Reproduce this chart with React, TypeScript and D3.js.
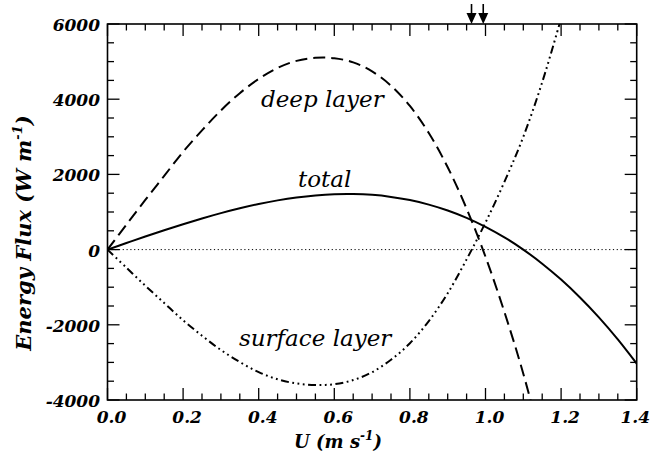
import React from "react";
import * as d3 from "d3";

// ---- data ----
const U_GRID = [0, 0.05, 0.1, 0.15, 0.2, 0.25, 0.3, 0.35, 0.4, 0.45, 0.5, 0.55, 0.6, 0.65, 0.7, 0.75, 0.8, 0.85, 0.9, 0.95, 1.0, 1.05, 1.1, 1.15, 1.2, 1.25, 1.3, 1.35, 1.4];
const TOTAL = [0, 174, 347, 514, 676, 828, 970, 1099, 1213, 1309, 1386, 1441, 1473, 1478, 1456, 1402, 1317, 1197, 1040, 844, 606, 326, 0, -374, -797, -1273, -1802, -2388, -3032];

const U_DEEP = [0, 0.05, 0.1, 0.15, 0.2, 0.25, 0.3, 0.35, 0.4, 0.45, 0.5, 0.55, 0.6, 0.65, 0.7, 0.75, 0.8, 0.85, 0.9, 0.95, 1.0, 1.05, 1.1, 1.15];
const DEEP = [0, 665, 1320, 1960, 2600, 3170, 3700, 4160, 4540, 4830, 5020, 5100, 5090, 4980, 4740, 4360, 3820, 3100, 2190, 1090, -190, -1660, -3300, -5200];

const U_SURF = [0, 0.05, 0.1, 0.15, 0.2, 0.25, 0.3, 0.35, 0.4, 0.45, 0.5, 0.55, 0.6, 0.65, 0.7, 0.75, 0.8, 0.85, 0.9, 0.95, 1.0, 1.05, 1.1, 1.15, 1.2];
const SURF = [0, -480, -960, -1420, -1880, -2290, -2670, -2990, -3260, -3450, -3560, -3600, -3580, -3470, -3260, -2930, -2490, -1900, -1160, -260, 720, 1800, 3000, 4450, 6150];

const ARROWS_U = [0.963, 0.994];

const X_TICKS = [0, 0.2, 0.4, 0.6, 0.8, 1.0, 1.2, 1.4];
const X_TICK_LABELS = ["0.0", "0.2", "0.4", "0.6", "0.8", "1.0", "1.2", "1.4"];
const Y_TICKS = [-4000, -2000, 0, 2000, 4000, 6000];
const Y_TICK_LABELS = ["-4000", "-2000", "0", "2000", "4000", "6000"];

const W = 651, H = 455;
const L = 107.5, R = 636.7, T = 24, B = 400;

export default function App() {
  const x = d3.scaleLinear().domain([0, 1.4]).range([L, R]);
  const y = d3.scaleLinear().domain([-4000, 6000]).range([B, T]);

  const mk = (us: number[], vs: number[]) =>
    d3.line<number>().x((_, i) => x(us[i])).y((v) => y(v)).curve(d3.curveCatmullRom.alpha(0.5))(vs) || "";

  const xMinor = d3.range(0, 1.4001, 0.05);
  const yMinor = d3.range(-4000, 6001, 500);
  const isMajX = (v: number) => Math.abs(v * 5 - Math.round(v * 5)) < 1e-6;
  const isMajY = (v: number) => v % 2000 === 0;

  const tickFont = { fontFamily: "DejaVu Serif", fontWeight: "bold" as const, fontStyle: "italic" as const, fontSize: 17 };
  const titleFont = { fontFamily: "DejaVu Serif", fontWeight: "bold" as const, fontStyle: "italic" as const };
  const labelFont = { fontFamily: "DejaVu Serif", fontStyle: "italic" as const, fontSize: 23 };

  return (
    <svg width={W} height={H} style={{ position: "absolute", left: 0, top: 0, background: "#fff" }}>
      <defs>
        <clipPath id="plot">
          <rect x={L} y={T} width={R - L} height={B - T} />
        </clipPath>
      </defs>
      {/* zero line */}
      <line x1={L} x2={R} y1={y(0)} y2={y(0)} stroke="#000" strokeWidth={1} strokeDasharray="1.2,2.6" />
      <g clipPath="url(#plot)" fill="none" stroke="#000">
        <path d={mk(U_GRID, TOTAL)} strokeWidth={2} />
        <path d={mk(U_DEEP, DEEP)} strokeWidth={2} strokeDasharray="12,6" />
        <path d={mk(U_SURF, SURF)} strokeWidth={2} strokeDasharray="8,3.5,1.8,3.5,1.8,3.5,1.8,3.5" />
      </g>
      {/* frame */}
      <rect x={L} y={T} width={R - L} height={B - T} fill="none" stroke="#000" strokeWidth={1.6} />
      {xMinor.map((v, i) => {
        const len = isMajX(v) ? 12 : 6.5;
        return (
          <g key={"xt" + i} stroke="#000" strokeWidth={1.3}>
            <line x1={x(v)} x2={x(v)} y1={B} y2={B - len} />
            <line x1={x(v)} x2={x(v)} y1={T} y2={T + len} />
          </g>
        );
      })}
      {yMinor.map((v, i) => {
        const len = isMajY(v) ? 12 : 6.5;
        return (
          <g key={"yt" + i} stroke="#000" strokeWidth={1.3}>
            <line x1={L} x2={L + len} y1={y(v)} y2={y(v)} />
            <line x1={R} x2={R - len} y1={y(v)} y2={y(v)} />
          </g>
        );
      })}
      {X_TICKS.map((v, i) => {
        const last = i === X_TICKS.length - 1;
        return (
          <text key={"xl" + i} x={last ? 650 : x(v) + 4} y={423} textAnchor={last ? "end" : "middle"} {...tickFont}>
            {X_TICK_LABELS[i]}
          </text>
        );
      })}
      {Y_TICKS.map((v, i) => (
        <text key={"yl" + i} x={100} y={y(v) + 7} textAnchor="end" {...tickFont}>
          {Y_TICK_LABELS[i]}
        </text>
      ))}
      {ARROWS_U.map((u, i) => (
        <g key={"ar" + i}>
          <line x1={x(u)} x2={x(u)} y1={4} y2={15} stroke="#000" strokeWidth={1.6} />
          <path d={`M${x(u) - 5},${13} L${x(u) + 5},${13} L${x(u)},${T} Z`} fill="#000" />
        </g>
      ))}
      <text x={261} y={107} {...labelFont}>deep layer</text>
      <text x={298} y={187} {...labelFont}>total</text>
      <text x={239} y={346} {...labelFont}>surface layer</text>
      <text x={338} y={448} textAnchor="middle" {...titleFont} fontSize={18}>
        U (m s<tspan dy={-8} fontSize={12}>-1</tspan><tspan dy={8}>)</tspan>
      </text>
      <text transform="translate(31,233) rotate(-90)" textAnchor="middle" {...titleFont} fontSize={21}>
        Energy Flux (W m<tspan dy={-9} fontSize={13}>-1</tspan><tspan dy={9}>)</tspan>
      </text>
    </svg>
  );
}
